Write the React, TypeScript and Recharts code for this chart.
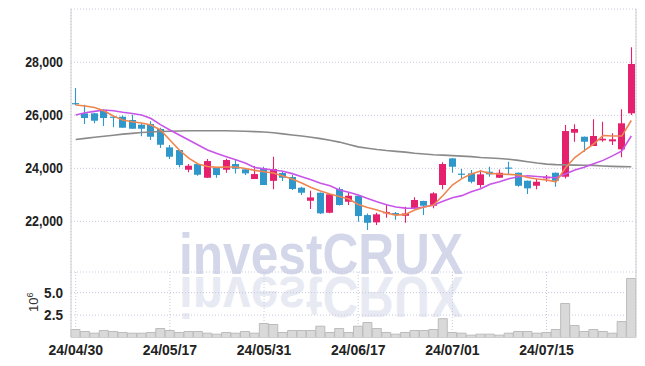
import React from 'react';
import { ComposedChart, Bar, Line, XAxis, YAxis, CartesianGrid } from 'recharts';

const dates = [
  '24/04/30', '24/05/02', '24/05/03', '24/05/07', '24/05/08', '24/05/09', '24/05/10', '24/05/13', '24/05/14', '24/05/16',
  '24/05/17', '24/05/20', '24/05/21', '24/05/22', '24/05/23', '24/05/24', '24/05/27', '24/05/28', '24/05/29', '24/05/30',
  '24/05/31', '24/06/03', '24/06/04', '24/06/05', '24/06/07', '24/06/10', '24/06/11', '24/06/12', '24/06/13', '24/06/14',
  '24/06/17', '24/06/18', '24/06/19', '24/06/20', '24/06/21', '24/06/24', '24/06/25', '24/06/26', '24/06/27', '24/06/28',
  '24/07/01', '24/07/02', '24/07/03', '24/07/04', '24/07/05', '24/07/08', '24/07/09', '24/07/10', '24/07/11', '24/07/12',
  '24/07/15', '24/07/16', '24/07/17', '24/07/18', '24/07/19', '24/07/22', '24/07/23', '24/07/24', '24/07/25', '24/07/26',
];

const opens = [
  26460, 26075, 26075, 26189, 25950, 25947, 25822, 25645, 25670, 25483,
  24792, 24690, 23947, 24162, 23645, 24011, 23947, 24162, 23962, 23596,
  24000, 23528, 23823, 23672, 23270, 22777, 23080, 22325, 23220, 22740,
  22966, 22237, 21962, 22302, 22313, 22210, 22490, 22767, 22590, 23371,
  24376, 23800, 23810, 23370, 23871, 23646, 24030, 23834, 23532, 23343,
  23622, 23834, 23684, 25343, 25192, 24842, 25055, 25018, 24717, 26075,
];
const highs = [
  27030, 26400, 26090, 26240, 25960, 25990, 26022, 25700, 25773, 25532,
  24879, 24700, 24162, 24170, 24350, 24040, 24360, 24350, 24011, 24087,
  24060, 24440, 23872, 23747, 23310, 23150, 23090, 23030, 23283, 23094,
  22980, 22300, 22325, 22615, 22350, 22550, 22905, 22780, 23094, 24230,
  24390, 23973, 23935, 23935, 24060, 23960, 24250, 23840, 23540, 23595,
  23747, 23840, 25634, 25660, 25200, 25850, 25758, 25320, 26226, 28566,
];
const lows = [
  26390, 25671, 25700, 25600, 25550, 25530, 25494, 25207, 25067, 24766,
  24350, 24037, 23850, 23720, 23640, 23645, 23833, 23810, 23747, 23596,
  23370, 23207, 23520, 23180, 22990, 22462, 22280, 22310, 22600, 22615,
  21985, 21670, 21860, 22135, 22060, 21947, 22490, 22237, 22490, 23207,
  23834, 23622, 23435, 23270, 23683, 23640, 23784, 23305, 23030, 23207,
  23495, 23305, 23620, 25004, 24626, 24842, 25004, 24880, 24415, 26011,
];
const closes = [
  26440, 25898, 25796, 25898, 25920, 25532, 25494, 25494, 25192, 24890,
  24437, 24124, 24098, 23758, 24275, 23747, 24313, 23985, 23811, 23784,
  23370, 23974, 23646, 23220, 23080, 22903, 22302, 23020, 22616, 22966,
  22200, 21947, 22264, 22350, 22237, 22300, 22805, 22590, 23056, 24162,
  24060, 23784, 23494, 23773, 23773, 23834, 24010, 23343, 23245, 23494,
  23684, 23532, 25407, 25483, 25004, 25220, 25117, 25094, 25698, 27936,
];

const ma5 = [
  26390, 26351, 26294, 26173, 25973, 25822, 25758, 25709, 25634, 25446,
  25068, 24690, 24388, 24162, 24067, 24037, 24049, 24049, 23992, 23924,
  23871, 23822, 23709, 23596, 23445, 23275, 23143, 23030, 22935, 22841,
  22634, 22520, 22426, 22313, 22237, 22264, 22426, 22539, 22615, 22974,
  23369, 23614, 23784, 23897, 23810, 23784, 23773, 23747, 23652, 23596,
  23558, 23494, 24011, 24407, 24671, 24917, 25237, 25219, 25219, 25804,
];
const ma20 = [
  26011, 26098, 26150, 26200, 26170, 26113, 26070, 26011, 25880, 25650,
  25445, 25260, 25068, 24880, 24690, 24560, 24437, 24320, 24200, 24030,
  23980, 23935, 23890, 23800, 23683, 23570, 23440, 23340, 23180, 23100,
  22992, 22860, 22740, 22630, 22540, 22500, 22495, 22540, 22620, 22760,
  22890, 22970, 23117, 23230, 23400, 23494, 23610, 23683, 23720, 23690,
  23665, 23645, 23790, 23935, 24040, 24170, 24300, 24470, 24660, 25219,
];
const ma120 = [
  25090, 25130, 25170, 25210, 25250, 25290, 25320, 25350, 25370, 25390,
  25400, 25410, 25420, 25420, 25420, 25420, 25420, 25410, 25400, 25385,
  25370, 25340, 25300, 25260, 25220, 25170, 25120, 25060, 24990, 24900,
  24810, 24760, 24710, 24670, 24640, 24610, 24570, 24540, 24515, 24500,
  24480, 24460, 24440, 24410, 24390, 24370, 24340, 24300, 24250, 24200,
  24160, 24140, 24130, 24120, 24115, 24110, 24090, 24075, 24065, 24060,
];

// volume in millions of shares
const volumes = [
  0.89, 0.67, 0.48, 0.78, 0.67, 0.56, 0.48, 0.48, 0.56, 1.0,
  0.78, 0.56, 0.67, 0.67, 0.48, 0.37, 0.56, 0.48, 0.67, 0.48,
  1.56, 1.45, 0.56, 0.78, 0.78, 0.78, 1.26, 0.56, 1.0, 0.56,
  1.26, 1.67, 1.0, 0.56, 0.37, 0.56, 0.78, 0.78, 0.89, 2.1,
  0.56, 0.48, 0.26, 0.37, 0.37, 0.26, 0.48, 0.67, 0.67, 0.48,
  0.56, 0.89, 3.79, 1.34, 0.67, 0.89, 0.67, 0.48, 1.78, 6.58,
];

const priceTicks = [22000, 24000, 26000, 28000];
const volumeTicks = [2.5, 5.0];
const dateTicks = ['24/04/30', '24/05/17', '24/05/31', '24/06/17', '24/07/01', '24/07/15'];
const watermark = 'investCRUX';

const UP = '#e5206d';
const DOWN = '#2f97c9';
const GRID = '#c6c9de';
const FRAME = '#cfcfcf';
const FONT = '"Liberation Sans", Arial, sans-serif';
const TICK_STYLE = { fontFamily: FONT, fontWeight: 'bold' as const, fontSize: 14, fill: '#222' };

const YTick = (props: any) => {
  const { x, y, payload, fmt } = props;
  const label = fmt(payload.value);
  return (
    <text x={x} y={y} dy="0.355em" textAnchor="end" {...TICK_STYLE} textLength={label.length * 6.3} lengthAdjust="spacingAndGlyphs">
      {label}
    </text>
  );
};

const Candle = (props: any) => {
  const { x, y, width, height, payload } = props;
  if (x == null || y == null || !payload) return null;
  const { open, close, high, low } = payload;
  const top = Math.min(y, y + height);
  const h = Math.abs(height);
  const ratio = high === low ? 0 : h / (high - low);
  const cx = Math.round(x + width / 2 - 0.5) + 0.5;
  const yO = top + (high - open) * ratio;
  const yC = top + (high - close) * ratio;
  const color = close > open ? UP : DOWN;
  const bTop = Math.min(yO, yC);
  const bH = Math.max(1.2, Math.abs(yO - yC));
  return (
    <g>
      <line x1={cx} x2={cx} y1={top} y2={top + h} stroke={color} strokeWidth={1.1} />
      <rect x={cx - 3.5} y={bTop} width={7} height={bH} fill={color} />
    </g>
  );
};

const fmtPrice = (v: number) => v.toLocaleString('en-US');
const fmtVol = (v: number) => v.toFixed(1);

export default function App() {
  const data = dates.map((d, i) => ({
    date: d,
    open: opens[i],
    high: highs[i],
    low: lows[i],
    close: closes[i],
    range: [lows[i], highs[i]],
    ma5: ma5[i],
    ma20: ma20[i],
    ma120: ma120[i],
    volume: volumes[i],
  }));

  return (
    <div style={{ position: 'absolute', left: 0, top: 0, width: 645, height: 366, background: '#fff', overflow: 'hidden' }}>
      <svg style={{ position: 'absolute', left: 0, top: 0 }} width={645} height={366}>
        <text x={179} y={274} fontFamily={FONT} fontWeight="bold" fontSize={57} fill="#d3d7e9" textLength={284} lengthAdjust="spacingAndGlyphs">
          {watermark}
        </text>
        <g transform="translate(0,551) scale(1,-1)">
          <text x={179} y={274} fontFamily={FONT} fontWeight="bold" fontSize={57} fill="#e8eaf3" textLength={284} lengthAdjust="spacingAndGlyphs">
            {watermark}
          </text>
        </g>
        <text transform="translate(37.5,312) rotate(-90)" fontFamily={FONT} fontSize={13} fill="#333">
          10<tspan fontSize={9} dy={-5}>6</tspan>
        </text>
      </svg>

      <div style={{ position: 'absolute', left: 0, top: 0 }}>
        <ComposedChart width={645} height={272} data={data} margin={{ top: 9, right: 0, bottom: 0, left: 0 }}>
          <CartesianGrid stroke={GRID} strokeDasharray="1 2" />
          <XAxis dataKey="date" ticks={dateTicks} interval={0} tick={false} tickLine={false} height={0} axisLine={{ stroke: FRAME }} />
          <XAxis xAxisId="top" orientation="top" dataKey="date" tick={false} tickLine={false} height={0} axisLine={{ stroke: FRAME }} />
          <YAxis
            domain={[20090, 30010]}
            allowDataOverflow
            ticks={priceTicks}
            interval={0}
            width={71}
            tickLine={false}
            axisLine={{ stroke: FRAME }}
            tick={<YTick fmt={fmtPrice} />}
          />
          <YAxis yAxisId="right" orientation="right" width={9} domain={[0, 1]} tick={false} tickLine={false} axisLine={{ stroke: FRAME }} />
          <Line dataKey="ma120" stroke="#8a8a8a" strokeWidth={1.6} dot={false} isAnimationActive={false} />
          <Line dataKey="ma20" stroke="#c955e8" strokeWidth={1.6} dot={false} isAnimationActive={false} />
          <Line dataKey="ma5" stroke="#ef8650" strokeWidth={1.6} dot={false} isAnimationActive={false} />
          <Bar dataKey="range" barSize={7} shape={<Candle />} isAnimationActive={false} />
        </ComposedChart>
      </div>

      <div style={{ position: 'absolute', left: 0, top: 272 }}>
        <ComposedChart width={645} height={94} data={data} margin={{ top: 0, right: 0, bottom: 0, left: 0 }} barCategoryGap={0}>
          <CartesianGrid stroke={GRID} strokeDasharray="1 2" />
          <XAxis
            dataKey="date"
            ticks={dateTicks}
            interval={0}
            height={28.5}
            tickLine={false}
            axisLine={{ stroke: FRAME }}
            tick={TICK_STYLE}
          />
          <XAxis xAxisId="top" orientation="top" dataKey="date" tick={false} tickLine={false} height={0} axisLine={{ stroke: FRAME }} />
          <YAxis
            domain={[0, 7.3]}
            allowDataOverflow
            ticks={volumeTicks}
            interval={0}
            width={71}
            tickLine={false}
            axisLine={{ stroke: FRAME }}
            tick={<YTick fmt={fmtVol} />}
          />
          <YAxis yAxisId="right" orientation="right" width={9} domain={[0, 1]} tick={false} tickLine={false} axisLine={{ stroke: FRAME }} />
          <Bar dataKey="volume" fill="#d9d9d9" stroke="#bcbcbc" strokeWidth={1} isAnimationActive={false} />
        </ComposedChart>
      </div>
    </div>
  );
}
